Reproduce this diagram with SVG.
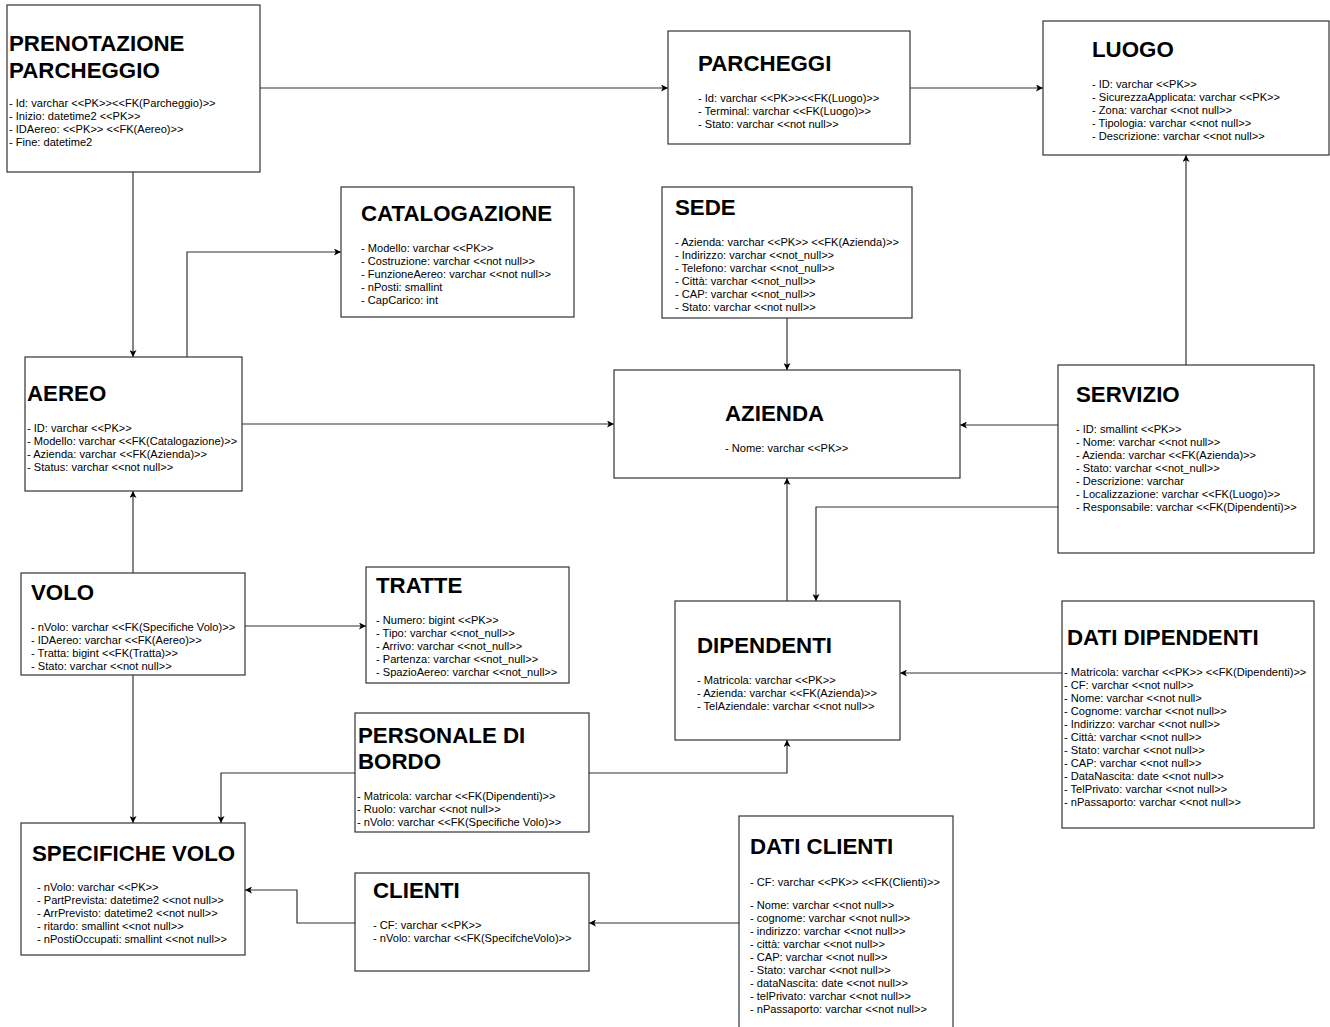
<svg xmlns="http://www.w3.org/2000/svg" width="1330" height="1027" viewBox="0 0 1330 1027">
<defs>
<style>
.box{fill:#ffffff;stroke:#333333;stroke-width:1.2}
.t{font-family:"Liberation Sans",Arial,Helvetica,sans-serif;font-weight:bold;font-size:22.3px;fill:#000}
.a{font-family:"Liberation Sans",Arial,Helvetica,sans-serif;font-size:11.1px;fill:#000}
.c{fill:none;stroke:#333333;stroke-width:1.2}
</style>
<marker id="ar" viewBox="0 0 10 10" refX="10" refY="5" markerWidth="7" markerHeight="7" markerUnits="userSpaceOnUse" orient="auto">
<path d="M0,0 L10,5 L0,10 L2.5,5 z" fill="#000"/>
</marker>
</defs>
<rect width="1330" height="1027" fill="#ffffff"/>

<g id="connectors">
<path class="c" d="M260,88 L668,88" marker-end="url(#ar)"/>
<path class="c" d="M910,88 L1043,88" marker-end="url(#ar)"/>
<path class="c" d="M133,172 L133,357" marker-end="url(#ar)"/>
<path class="c" d="M187,357 L187,252 L341,252" marker-end="url(#ar)"/>
<path class="c" d="M242,424 L614,424" marker-end="url(#ar)"/>
<path class="c" d="M787,318 L787,370" marker-end="url(#ar)"/>
<path class="c" d="M1186,365 L1186,155" marker-end="url(#ar)"/>
<path class="c" d="M1058,425 L960,425" marker-end="url(#ar)"/>
<path class="c" d="M1058,507 L816,507 L816,601" marker-end="url(#ar)"/>
<path class="c" d="M787,601 L787,478" marker-end="url(#ar)"/>
<path class="c" d="M1062,673 L900,673" marker-end="url(#ar)"/>
<path class="c" d="M133,573 L133,491" marker-end="url(#ar)"/>
<path class="c" d="M245,626 L366,626" marker-end="url(#ar)"/>
<path class="c" d="M133,675 L133,823" marker-end="url(#ar)"/>
<path class="c" d="M355,773 L221,773 L221,823" marker-end="url(#ar)"/>
<path class="c" d="M589,773 L787,773 L787,740" marker-end="url(#ar)"/>
<path class="c" d="M355,923 L297,923 L297,890 L245,890" marker-end="url(#ar)"/>
<path class="c" d="M739,923 L589,923" marker-end="url(#ar)"/>
</g>

<g id="prenotazione-parcheggio">
<rect class="box" x="7" y="5" width="253" height="167"/>
<text class="t" x="9" y="51">PRENOTAZIONE</text>
<text class="t" x="9" y="78">PARCHEGGIO</text>
<text class="a"><tspan x="9" y="107">- Id: varchar &lt;&lt;PK&gt;&gt;&lt;&lt;FK(Parcheggio)&gt;&gt;</tspan><tspan x="9" y="120">- Inizio: datetime2 &lt;&lt;PK&gt;&gt;</tspan><tspan x="9" y="133">- IDAereo: &lt;&lt;PK&gt;&gt; &lt;&lt;FK(Aereo)&gt;&gt;</tspan><tspan x="9" y="146">- Fine: datetime2</tspan></text>
</g>

<g id="parcheggi">
<rect class="box" x="668" y="31" width="242" height="113"/>
<text class="t" x="698" y="71">PARCHEGGI</text>
<text class="a"><tspan x="698" y="102">- Id: varchar &lt;&lt;PK&gt;&gt;&lt;&lt;FK(Luogo)&gt;&gt;</tspan><tspan x="698" y="115">- Terminal: varchar &lt;&lt;FK(Luogo)&gt;&gt;</tspan><tspan x="698" y="128">- Stato: varchar &lt;&lt;not null&gt;&gt;</tspan></text>
</g>

<g id="luogo">
<rect class="box" x="1043" y="21" width="286" height="134"/>
<text class="t" x="1092" y="57">LUOGO</text>
<text class="a"><tspan x="1092" y="88">- ID: varchar &lt;&lt;PK&gt;&gt;</tspan><tspan x="1092" y="101">- SicurezzaApplicata: varchar &lt;&lt;PK&gt;&gt;</tspan><tspan x="1092" y="114">- Zona: varchar &lt;&lt;not null&gt;&gt;</tspan><tspan x="1092" y="127">- Tipologia: varchar &lt;&lt;not null&gt;&gt;</tspan><tspan x="1092" y="140">- Descrizione: varchar &lt;&lt;not null&gt;&gt;</tspan></text>
</g>

<g id="catalogazione">
<rect class="box" x="341" y="187" width="233" height="130"/>
<text class="t" x="361" y="221">CATALOGAZIONE</text>
<text class="a"><tspan x="361" y="252">- Modello: varchar &lt;&lt;PK&gt;&gt;</tspan><tspan x="361" y="265">- Costruzione: varchar &lt;&lt;not null&gt;&gt;</tspan><tspan x="361" y="278">- FunzioneAereo: varchar &lt;&lt;not null&gt;&gt;</tspan><tspan x="361" y="291">- nPosti: smallint</tspan><tspan x="361" y="304">- CapCarico: int</tspan></text>
</g>

<g id="sede">
<rect class="box" x="662" y="187" width="250" height="131"/>
<text class="t" x="675" y="215">SEDE</text>
<text class="a"><tspan x="675" y="246">- Azienda: varchar &lt;&lt;PK&gt;&gt; &lt;&lt;FK(Azienda)&gt;&gt;</tspan><tspan x="675" y="259">- Indirizzo: varchar &lt;&lt;not_null&gt;&gt;</tspan><tspan x="675" y="272">- Telefono: varchar &lt;&lt;not_null&gt;&gt;</tspan><tspan x="675" y="285">- Città: varchar &lt;&lt;not_null&gt;&gt;</tspan><tspan x="675" y="298">- CAP: varchar &lt;&lt;not_null&gt;&gt;</tspan><tspan x="675" y="311">- Stato: varchar &lt;&lt;not null&gt;&gt;</tspan></text>
</g>

<g id="aereo">
<rect class="box" x="25" y="357" width="217" height="134"/>
<text class="t" x="27" y="401">AEREO</text>
<text class="a"><tspan x="27" y="432">- ID: varchar &lt;&lt;PK&gt;&gt;</tspan><tspan x="27" y="445">- Modello: varchar &lt;&lt;FK(Catalogazione)&gt;&gt;</tspan><tspan x="27" y="458">- Azienda: varchar &lt;&lt;FK(Azienda)&gt;&gt;</tspan><tspan x="27" y="471">- Status: varchar &lt;&lt;not null&gt;&gt;</tspan></text>
</g>

<g id="azienda">
<rect class="box" x="614" y="370" width="346" height="108"/>
<text class="t" x="725" y="421">AZIENDA</text>
<text class="a"><tspan x="725" y="452">- Nome: varchar &lt;&lt;PK&gt;&gt;</tspan></text>
</g>

<g id="servizio">
<rect class="box" x="1058" y="365" width="256" height="188"/>
<text class="t" x="1076" y="402">SERVIZIO</text>
<text class="a"><tspan x="1076" y="433">- ID: smallint &lt;&lt;PK&gt;&gt;</tspan><tspan x="1076" y="446">- Nome: varchar &lt;&lt;not null&gt;&gt;</tspan><tspan x="1076" y="459">- Azienda: varchar &lt;&lt;FK(Azienda)&gt;&gt;</tspan><tspan x="1076" y="472">- Stato: varchar &lt;&lt;not_null&gt;&gt;</tspan><tspan x="1076" y="485">- Descrizione: varchar</tspan><tspan x="1076" y="498">- Localizzazione: varchar &lt;&lt;FK(Luogo)&gt;&gt;</tspan><tspan x="1076" y="511">- Responsabile: varchar &lt;&lt;FK(Dipendenti)&gt;&gt;</tspan></text>
</g>

<g id="volo">
<rect class="box" x="21" y="573" width="224" height="102"/>
<text class="t" x="31" y="600">VOLO</text>
<text class="a"><tspan x="31" y="631">- nVolo: varchar &lt;&lt;FK(Specifiche Volo)&gt;&gt;</tspan><tspan x="31" y="644">- IDAereo: varchar &lt;&lt;FK(Aereo)&gt;&gt;</tspan><tspan x="31" y="657">- Tratta: bigint &lt;&lt;FK(Tratta)&gt;&gt;</tspan><tspan x="31" y="670">- Stato: varchar &lt;&lt;not null&gt;&gt;</tspan></text>
</g>

<g id="tratte">
<rect class="box" x="366" y="567" width="203" height="116"/>
<text class="t" x="376" y="593">TRATTE</text>
<text class="a"><tspan x="376" y="624">- Numero: bigint &lt;&lt;PK&gt;&gt;</tspan><tspan x="376" y="637">- Tipo: varchar &lt;&lt;not_null&gt;&gt;</tspan><tspan x="376" y="650">- Arrivo: varchar &lt;&lt;not_null&gt;&gt;</tspan><tspan x="376" y="663">- Partenza: varchar &lt;&lt;not_null&gt;&gt;</tspan><tspan x="376" y="676">- SpazioAereo: varchar &lt;&lt;not_null&gt;&gt;</tspan></text>
</g>

<g id="dipendenti">
<rect class="box" x="675" y="601" width="225" height="139"/>
<text class="t" x="697" y="653">DIPENDENTI</text>
<text class="a"><tspan x="697" y="684">- Matricola: varchar &lt;&lt;PK&gt;&gt;</tspan><tspan x="697" y="697">- Azienda: varchar &lt;&lt;FK(Azienda)&gt;&gt;</tspan><tspan x="697" y="710">- TelAziendale: varchar &lt;&lt;not null&gt;&gt;</tspan></text>
</g>

<g id="dati-dipendenti">
<rect class="box" x="1062" y="601" width="252" height="227"/>
<text class="t" x="1067" y="645">DATI DIPENDENTI</text>
<text class="a"><tspan x="1064" y="676">- Matricola: varchar &lt;&lt;PK&gt;&gt; &lt;&lt;FK(Dipendenti)&gt;&gt;</tspan><tspan x="1064" y="689">- CF: varchar &lt;&lt;not null&gt;&gt;</tspan><tspan x="1064" y="702">- Nome: varchar &lt;&lt;not null&gt;</tspan><tspan x="1064" y="715">- Cognome: varchar &lt;&lt;not null&gt;&gt;</tspan><tspan x="1064" y="728">- Indirizzo: varchar &lt;&lt;not null&gt;&gt;</tspan><tspan x="1064" y="741">- Città: varchar &lt;&lt;not null&gt;&gt;</tspan><tspan x="1064" y="754">- Stato: varchar &lt;&lt;not null&gt;&gt;</tspan><tspan x="1064" y="767">- CAP: varchar &lt;&lt;not null&gt;&gt;</tspan><tspan x="1064" y="780">- DataNascita: date &lt;&lt;not null&gt;&gt;</tspan><tspan x="1064" y="793">- TelPrivato: varchar &lt;&lt;not null&gt;&gt;</tspan><tspan x="1064" y="806">- nPassaporto: varchar &lt;&lt;not null&gt;&gt;</tspan></text>
</g>

<g id="personale-di-bordo">
<rect class="box" x="355" y="713" width="234" height="119"/>
<text class="t" x="358" y="743">PERSONALE DI</text>
<text class="t" x="358" y="769">BORDO</text>
<text class="a"><tspan x="357" y="800">- Matricola: varchar &lt;&lt;FK(Dipendenti)&gt;&gt;</tspan><tspan x="357" y="813">- Ruolo: varchar &lt;&lt;not null&gt;&gt;</tspan><tspan x="357" y="826">- nVolo: varchar &lt;&lt;FK(Specifiche Volo)&gt;&gt;</tspan></text>
</g>

<g id="specifiche-volo">
<rect class="box" x="21" y="823" width="224" height="132"/>
<text class="t" x="32" y="861">SPECIFICHE VOLO</text>
<text class="a"><tspan x="37" y="891">- nVolo: varchar &lt;&lt;PK&gt;&gt;</tspan><tspan x="37" y="904">- PartPrevista: datetime2 &lt;&lt;not null&gt;&gt;</tspan><tspan x="37" y="917">- ArrPrevisto: datetime2 &lt;&lt;not null&gt;&gt;</tspan><tspan x="37" y="930">- ritardo: smallint &lt;&lt;not null&gt;&gt;</tspan><tspan x="37" y="943">- nPostiOccupati: smallint &lt;&lt;not null&gt;&gt;</tspan></text>
</g>

<g id="clienti">
<rect class="box" x="355" y="873" width="234" height="98"/>
<text class="t" x="373" y="898">CLIENTI</text>
<text class="a"><tspan x="373" y="929">- CF: varchar &lt;&lt;PK&gt;&gt;</tspan><tspan x="373" y="942">- nVolo: varchar &lt;&lt;FK(SpecifcheVolo)&gt;&gt;</tspan></text>
</g>

<g id="dati-clienti">
<rect class="box" x="739" y="816" width="214" height="220"/>
<text class="t" x="750" y="854">DATI CLIENTI</text>
<text class="a"><tspan x="750" y="886">- CF: varchar &lt;&lt;PK&gt;&gt; &lt;&lt;FK(Clienti)&gt;&gt;</tspan><tspan x="750" y="909">- Nome: varchar &lt;&lt;not null&gt;&gt;</tspan><tspan x="750" y="922">- cognome: varchar &lt;&lt;not null&gt;&gt;</tspan><tspan x="750" y="935">- indirizzo: varchar &lt;&lt;not null&gt;&gt;</tspan><tspan x="750" y="948">- città: varchar &lt;&lt;not null&gt;&gt;</tspan><tspan x="750" y="961">- CAP: varchar &lt;&lt;not null&gt;&gt;</tspan><tspan x="750" y="974">- Stato: varchar &lt;&lt;not null&gt;&gt;</tspan><tspan x="750" y="987">- dataNascita: date &lt;&lt;not null&gt;&gt;</tspan><tspan x="750" y="1000">- telPrivato: varchar &lt;&lt;not null&gt;&gt;</tspan><tspan x="750" y="1013">- nPassaporto: varchar &lt;&lt;not null&gt;&gt;</tspan></text>
</g>
</svg>
